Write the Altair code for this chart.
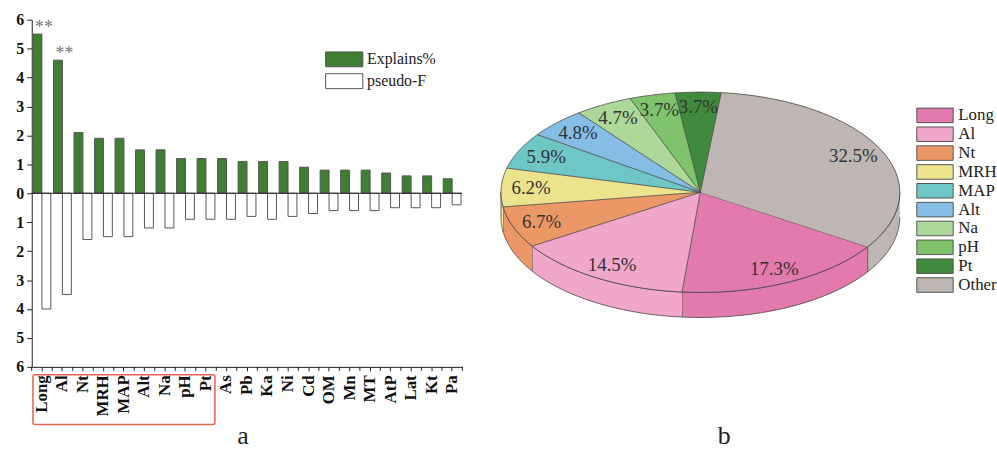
import altair as alt
import pandas as pd

SERIF = "Liberation Serif"

# ---------------- data: panel a ----------------
categories = ["Long", "Al", "Nt", "MRH", "MAP", "Alt", "Na", "pH", "Pt", "As", "Pb",
              "Ka", "Ni", "Cd", "OM", "Mn", "MT", "AtP", "Lat", "Kt", "Pa"]
explains = [5.5, 4.6, 2.1, 1.9, 1.9, 1.5, 1.5, 1.2, 1.2, 1.2, 1.1,
            1.1, 1.1, 0.9, 0.8, 0.8, 0.8, 0.7, 0.6, 0.6, 0.5]
pseudo_f = [4.0, 3.5, 1.6, 1.5, 1.5, 1.2, 1.2, 0.9, 0.9, 0.9, 0.8,
            0.9, 0.8, 0.7, 0.6, 0.6, 0.6, 0.5, 0.5, 0.5, 0.4]
significance = ["**", "**"] + [""] * 19
series_names = ["Explains%", "pseudo-F"]
series_colors = ["#3f7e33", "#ffffff"]
box_first, box_last = "Long", "Pt"   # red box around these labels
y_ticks = [-6, -5, -4, -3, -2, -1, 0, 1, 2, 3, 4, 5, 6]

# ---------------- data: panel b ----------------
pie_labels = ["Long", "Al", "Nt", "MRH", "MAP", "Alt", "Na", "pH", "Pt", "Other"]
pie_pct = [17.3, 14.5, 6.7, 6.2, 5.9, 4.8, 4.7, 3.7, 3.7, 32.5]
pie_colors = ["#e27aad", "#f0a7c9", "#ec9866", "#ece48d", "#6fc7c5",
              "#85bde5", "#aed79a", "#7fc46c", "#3f8a3c", "#bdb6b2"]

RECT_SYMBOL = "M-2.5,-1H2.5V1H-2.5Z"   # wide box symbol

# ================= panel a =================
n = len(categories)
left_df = pd.DataFrame({
    "cat": categories * 2,
    "series": [series_names[0]] * n + [series_names[1]] * n,
    "value": explains + [-v for v in pseudo_f],
})
sig_df = pd.DataFrame({"cat": categories, "value": explains, "sig": significance})
zero_df = pd.DataFrame({"value": [0]})
cat_df = pd.DataFrame({"cat": categories})
last_df = pd.DataFrame({"cat": categories[-1:]})

xscale = alt.Scale(domain=categories, paddingInner=0.13, paddingOuter=0.06)
xaxis = alt.Axis(title=None, labelAngle=-90, labelFont=SERIF, labelFontSize=17,
                 labelFontWeight="bold", labelColor="#111", tickColor="#222",
                 tickSize=4, domainColor="#222", labelPadding=4)
yscale = alt.Scale(domain=[-6, 6], nice=False)
yaxis = alt.Axis(title=None, values=y_ticks, labelExpr="abs(datum.value)",
                 labelOverlap=False, grid=False, labelFont=SERIF, labelFontSize=16,
                 labelFontWeight="bold", labelColor="#111", tickColor="#222", tickSize=5,
                 domainColor="#222", labelPadding=3)
xcat = alt.X("cat:N", scale=xscale, axis=xaxis)
yval = alt.Y("value:Q", scale=yscale, axis=yaxis)

bars = alt.Chart(left_df).mark_bar(stroke="#555", strokeWidth=1).encode(
    x=xcat,
    xOffset=alt.XOffset("series:N", scale=alt.Scale(domain=series_names)),
    y=yval,
    color=alt.Color("series:N", scale=alt.Scale(domain=series_names, range=series_colors),
                    legend=alt.Legend(title=None, orient="none", legendX=307, legendY=32,
                                      symbolType=RECT_SYMBOL, symbolSize=225,
                                      symbolStrokeColor="#555", symbolStrokeWidth=1,
                                      symbolOpacity=1, labelFont=SERIF, labelFontSize=16,
                                      labelColor="#222", labelOffset=15, rowPadding=2)),
)
zero = alt.Chart(zero_df).mark_rule(color="#222", strokeWidth=1).encode(y=yval)
stars = alt.Chart(sig_df).mark_text(font=SERIF, fontSize=18, color="#777",
                                    baseline="alphabetic", dy=-1, dx=2).encode(
    x=xcat, y=yval, text="sig:N")
box = alt.Chart(pd.DataFrame({"a": [box_first], "b": [box_last]})).mark_rect(
    fillOpacity=0, stroke="#e5604d", strokeWidth=1.5, cornerRadius=2, x2Offset=9).encode(
    x=alt.X("a:N", scale=xscale, axis=xaxis, bandPosition=0),
    x2="b:N",
    y=alt.value(358), y2=alt.value(408))
# minor ticks between categories on the bottom axis
minor = alt.Chart(cat_df).mark_rule(color="#222", strokeWidth=1, xOffset=-1.3).encode(
    x=alt.X("cat:N", scale=xscale, axis=xaxis, bandPosition=0),
    y=alt.value(350), y2=alt.value(354))
minor_end = alt.Chart(last_df).mark_rule(color="#222", strokeWidth=1, xOffset=1.3).encode(
    x=alt.X("cat:N", scale=xscale, axis=xaxis, bandPosition=1),
    y=alt.value(350), y2=alt.value(354))

left = alt.layer(bars, zero, stars, box, minor, minor_end).properties(
    width=434, height=350,
    title=alt.TitleParams(text="a", orient="bottom", anchor="middle", font=SERIF,
                          fontSize=26, fontWeight="normal", color="#222", offset=-2, dx=-4))

# ================= panel b =================
START = 33      # degrees, clockwise from 3 o'clock
DEPTH = 0.25    # side height relative to vertical radius
N = 48
R_LAB = 0.85

pie_df = pd.DataFrame({"order": list(range(len(pie_labels))), "label": pie_labels, "pct": pie_pct})

xs = alt.Scale(domain=[-1, 1], nice=False, zero=False)
ys = alt.Scale(domain=[-1.723, 1.743], nice=False, zero=False, reverse=True)
cs = alt.Scale(domain=pie_labels, range=pie_colors)
pie_legend = alt.Legend(title=None, orient="none", legendX=429, legendY=88,
                        symbolType=RECT_SYMBOL, symbolSize=215,
                        symbolStrokeColor="#555", symbolStrokeWidth=1,
                        symbolOpacity=1, labelFont=SERIF, labelFontSize=17,
                        labelColor="#222", labelOffset=15, rowPadding=0)

base = alt.Chart(pie_df).transform_window(
    cum="sum(pct)", sort=[alt.SortField("order")], frame=[None, 0]
).transform_calculate(
    a0=f"{START}*PI/180 + 2*PI*(datum.cum - datum.pct)/100",
    a1=f"{START}*PI/180 + 2*PI*datum.cum/100",
)

side = base.transform_calculate(w="[0, 1]").transform_flatten(["w"]).transform_calculate(
    lo="max(datum.a0, 2*PI*datum.w)",
    hi="min(datum.a1, PI + 2*PI*datum.w)",
    seg="datum.label + '_' + datum.w",
).transform_filter("datum.hi > datum.lo").transform_calculate(
    k=f"sequence(0, {2 * N + 2})"
).transform_flatten(["k"]).transform_calculate(
    t=f"datum.k <= {N} ? datum.lo + (datum.hi - datum.lo) * datum.k / {N} : "
      f"datum.hi - (datum.hi - datum.lo) * (datum.k - {N + 1}) / {N}",
).transform_calculate(
    px="cos(datum.t)",
    py=f"sin(datum.t) + (datum.k > {N} ? {DEPTH} : 0)",
).mark_line(filled=True, stroke="#444", strokeWidth=0.8, strokeJoin="round").encode(
    x=alt.X("px:Q", scale=xs, axis=None),
    y=alt.Y("py:Q", scale=ys, axis=None),
    detail="seg:N",
    order="k:Q",
    color=alt.Color("label:N", scale=cs, legend=pie_legend),
)

top = base.transform_calculate(k=f"sequence(-1, {N + 1})").transform_flatten(["k"]).transform_calculate(
    t=f"datum.a0 + (datum.a1 - datum.a0) * datum.k / {N}",
).transform_calculate(
    px="datum.k < 0 ? 0 : cos(datum.t)",
    py="datum.k < 0 ? 0 : sin(datum.t)",
).mark_line(filled=True, stroke="#444", strokeWidth=0.8, strokeJoin="round").encode(
    x=alt.X("px:Q", scale=xs, axis=None),
    y=alt.Y("py:Q", scale=ys, axis=None),
    detail="label:N",
    order="k:Q",
    color=alt.Color("label:N", scale=cs, legend=pie_legend),
)

texts = base.transform_calculate(
    tm="(datum.a0 + datum.a1) / 2",
).transform_calculate(
    px=f"{R_LAB} * cos(datum.tm)",
    py=f"{R_LAB} * sin(datum.tm)",
    txt="format(datum.pct, '.1f') + '%'",
).mark_text(font=SERIF, fontSize=19, color="#333").encode(
    x=alt.X("px:Q", scale=xs, axis=None),
    y=alt.Y("py:Q", scale=ys, axis=None),
    text="txt:N",
)

right = alt.layer(side, top, texts).properties(
    width=402, height=350,
    title=alt.TitleParams(text="b", orient="bottom", anchor="middle", font=SERIF,
                          fontSize=26, fontWeight="normal", color="#222", offset=57, dx=24))

chart = alt.hconcat(left, right, spacing=37).resolve_scale(
    x="independent", y="independent", color="independent"
).resolve_legend(color="independent").properties(
    padding={"left": 16, "top": 10, "right": 0, "bottom": 0},
    background="white",
).configure_view(strokeWidth=0)

chart.save("out.html", embed_options={"renderer": "svg", "actions": False})
